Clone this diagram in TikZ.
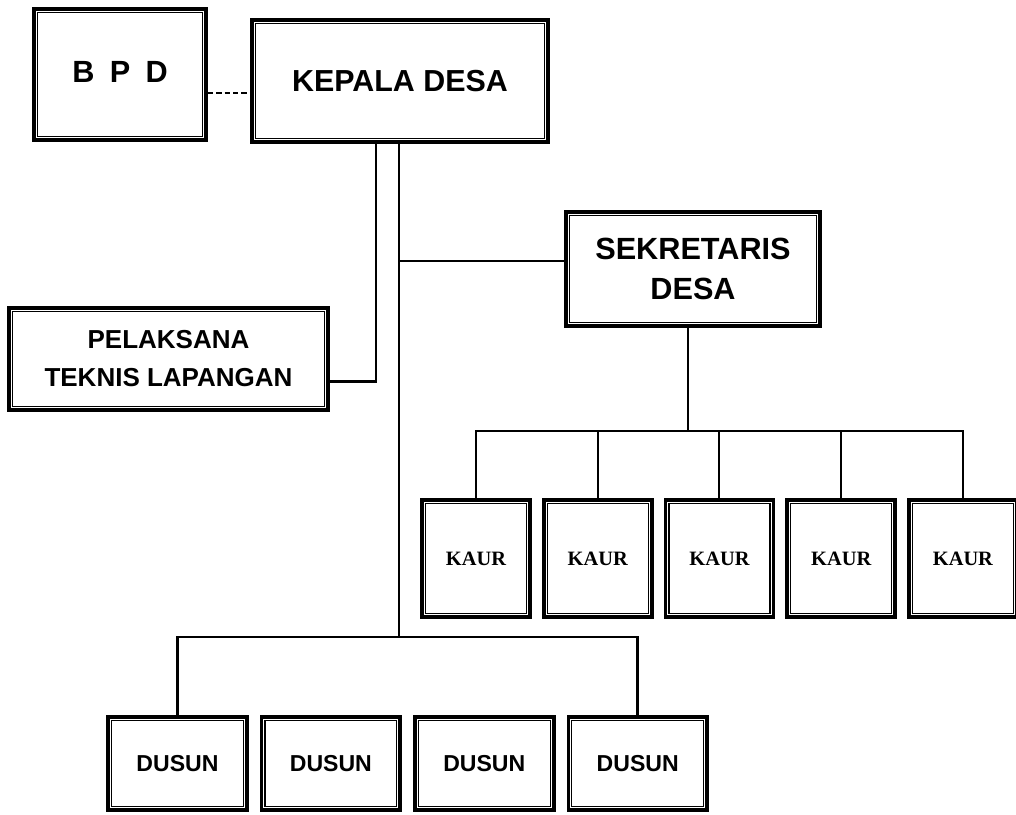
\documentclass[tikz,border=0pt]{standalone}
\usepackage{fontspec}
\setmainfont{Liberation Sans}
\newfontfamily\kaurfont{Liberation Serif}
\usepackage{tikz}
\usetikzlibrary{positioning}

\begin{document}
\begin{tikzpicture}[x=0.75pt,y=-0.75pt,
  org/.style={draw,line width=2.8pt,inner sep=0pt,align=center,fill=white},
  kaur/.style={org,minimum width=81pt,minimum height=88pt,font=\kaurfont\bfseries\fontsize{15.3pt}{18pt}\selectfont},
  dusun/.style={org,minimum width=104pt,minimum height=70pt,font=\bfseries\fontsize{17.3pt}{20pt}\selectfont},
  link/.style={line width=2.2pt},
  sublink/.style={line width=1.5pt}]
  \useasboundingbox (0,0) rectangle (1016,814);
  % pimpinan
  \node[org,minimum width=129pt,minimum height=98pt,font=\bfseries\fontsize{23pt}{26pt}\selectfont] (bpd) at (120,74.5)
    {\raisebox{4pt}{B\hspace{0.5em}P\hspace{0.5em}D}};
  \node[org,minimum width=222pt,minimum height=91.5pt,font=\bfseries\fontsize{22.8pt}{28pt}\selectfont] (kades) at (400,81)
    {KEPALA DESA};
  \node[org,minimum width=190.5pt,minimum height=85.5pt,font=\bfseries\fontsize{23pt}{30pt}\selectfont] (sekdes) at (693,269)
    {SEKRETARIS\\DESA};
  \node[org,minimum width=239pt,minimum height=76.5pt,font=\bfseries\fontsize{19.5pt}{28.5pt}\selectfont] (ptl) at (168.5,359)
    {PELAKSANA\\TEKNIS LAPANGAN};
  % kepala urusan
  \node[kaur] (kaur1) at (476,558.5) {KAUR};
  \node[kaur,right=7.5pt of kaur1] (kaur2) {KAUR};
  \node[kaur,right=7.5pt of kaur2] (kaur3) {KAUR};
  \node[kaur,right=7.5pt of kaur3] (kaur4) {KAUR};
  \node[kaur,right=7.5pt of kaur4] (kaur5) {KAUR};
  % kepala dusun
  \node[dusun] (dusun1) at (177.5,763.5) {DUSUN};
  \node[dusun,right=8.25pt of dusun1] (dusun2) {DUSUN};
  \node[dusun,right=8.25pt of dusun2] (dusun3) {DUSUN};
  \node[dusun,right=8.25pt of dusun3] (dusun4) {DUSUN};
  % garis dalam
  \foreach \n in {bpd,kades,sekdes,ptl,kaur1,kaur2,kaur3,kaur4,kaur5,dusun1,dusun2,dusun3,dusun4}
    \draw[line width=0.9pt] ([shift={(4pt,-4pt)}]\n.north west) rectangle ([shift={(-4pt,4pt)}]\n.south east);
  % hubungan
  \coordinate (dbus) at (399,637);
  \coordinate (kbus) at (688,431);
  \draw[dash pattern=on 4pt off 2.3pt,line width=1pt] ([yshift=-13.9pt]bpd.east) -- ([yshift=-13.9pt]bpd.east -| kades.west);
  \draw[link] ([xshift=-18pt]kades.south) |- ([yshift=-17pt]ptl.east);
  \draw[link] (kades.south -| dbus) -- (dbus);
  \draw[link] ([yshift=6pt]sekdes.west) -- ([yshift=6pt]sekdes.west -| dbus);
  \draw[link] (dusun1.north) |- (dbus) -| (dusun4.north);
  \draw[link] (sekdes.south -| kbus) -- (kbus);
  \draw[sublink] (kaur1.north) |- (kbus) -| (kaur5.north);
  \draw[sublink] (kaur2.north) -- (kaur2.north |- kbus);
  \draw[sublink] (kaur3.north) -- (kaur3.north |- kbus);
  \draw[sublink] (kaur4.north) -- (kaur4.north |- kbus);
\end{tikzpicture}
\end{document}
